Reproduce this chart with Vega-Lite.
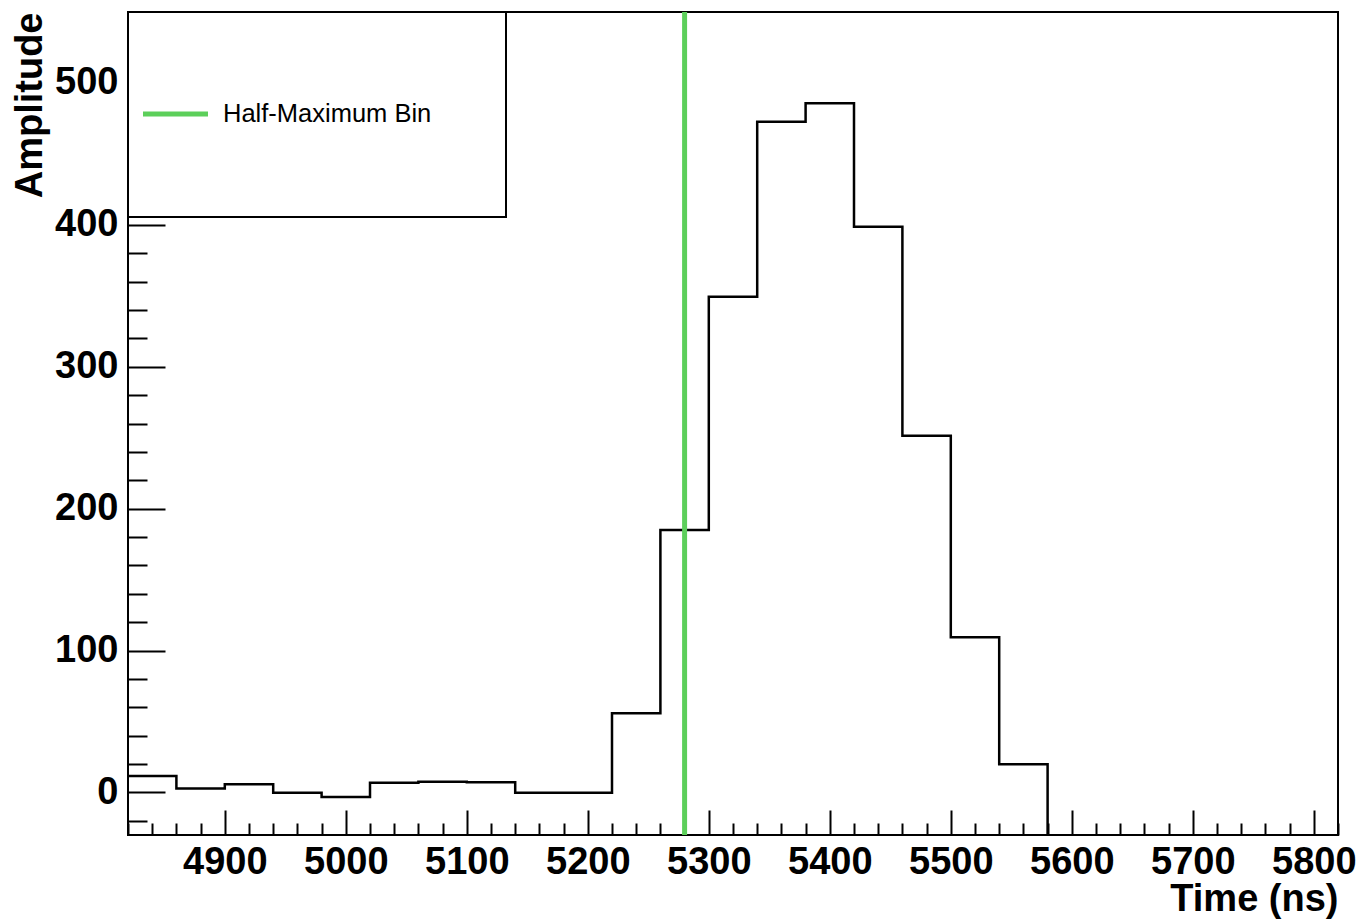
{
  "$schema": "https://vega.github.io/schema/vega-lite/v6.json",
  "width": 1210,
  "height": 823,
  "autosize": {"type": "none"},
  "padding": {"left": 128, "top": 12, "right": 21, "bottom": 87},
  "background": "white",
  "config": {
    "view": {"stroke": "black", "strokeWidth": 2},
    "font": "Liberation Sans"
  },
  "datasets": {
    "hist": [
      {"t": 4820, "amp": 11.6},
      {"t": 4860, "amp": 2.7},
      {"t": 4900, "amp": 5.8},
      {"t": 4940, "amp": -0.3},
      {"t": 4980, "amp": -3.2},
      {"t": 5020, "amp": 6.9},
      {"t": 5060, "amp": 7.6},
      {"t": 5100, "amp": 7.2},
      {"t": 5140, "amp": -0.3},
      {"t": 5180, "amp": -0.3},
      {"t": 5220, "amp": 55.8},
      {"t": 5260, "amp": 185.0},
      {"t": 5300, "amp": 349.4},
      {"t": 5340, "amp": 472.7},
      {"t": 5380, "amp": 485.7},
      {"t": 5420, "amp": 398.7},
      {"t": 5460, "amp": 251.4},
      {"t": 5500, "amp": 109.4},
      {"t": 5540, "amp": 19.9},
      {"t": 5580, "amp": -30}
    ],
    "half": [{"t": 5280, "name": "Half-Maximum Bin"}]
  },
  "resolve": {"axis": {"x": "independent"}},
  "layer": [
    {
      "data": {"name": "hist"},
      "mark": {"type": "line", "interpolate": "step-after", "color": "black", "strokeWidth": 2.5, "clip": true},
      "encoding": {
        "x": {
          "field": "t", "type": "quantitative",
          "scale": {"domain": [4820, 5820], "nice": false, "zero": false},
          "axis": {
            "orient": "bottom",
            "values": [4900,5000,5100,5200,5300,5400,5500,5600,5700,5800],
            "format": "d",
            "tickSize": -25,
            "tickColor": "black",
            "tickWidth": 2,
            "domain": false,
            "grid": false,
            "labelOverlap": false,
            "labelFont": "Liberation Sans",
            "labelFontWeight": "bold",
            "labelFontSize": 38,
            "labelColor": "black",
            "labelPadding": 33,
            "title": "Time (ns)",
            "titleAnchor": "end",
            "titleFont": "Liberation Sans",
            "titleFontWeight": "bold",
            "titleFontSize": 38,
            "titleColor": "black",
            "titlePadding": -1
          }
        },
        "y": {
          "field": "amp", "type": "quantitative",
          "scale": {"domain": [-30, 550], "nice": false, "zero": false},
          "axis": {
            "values": [-20,0,20,40,60,80,100,120,140,160,180,200,220,240,260,280,300,320,340,360,380,400,420,440,460,480,500,520,540],
            "format": "d",
            "tickSize": {"condition": {"test": "datum.value % 100 === 0", "value": -37}, "value": -19},
            "tickColor": "black",
            "tickWidth": 2,
            "domain": false,
            "grid": false,
            "labelExpr": "datum.value % 100 === 0 ? datum.label : ''",
            "labelOverlap": false,
            "labelFont": "Liberation Sans",
            "labelFontWeight": "bold",
            "labelFontSize": 38,
            "labelColor": "black",
            "labelPadding": 47,
            "title": "Amplitude",
            "titleAnchor": "end",
            "titleFont": "Liberation Sans",
            "titleFontWeight": "bold",
            "titleFontSize": 38,
            "titleColor": "black",
            "titlePadding": 5
          }
        }
      }
    },
    {
      "data": {"name": "half"},
      "mark": {"type": "rule", "strokeWidth": 5},
      "encoding": {
        "x": {
          "field": "t", "type": "quantitative",
          "axis": {
            "orient": "bottom",
            "values": [4820,4840,4860,4880,4920,4940,4960,4980,5020,5040,5060,5080,5120,5140,5160,5180,5220,5240,5260,5280,5320,5340,5360,5380,5420,5440,5460,5480,5520,5540,5560,5580,5620,5640,5660,5680,5720,5740,5760,5780,5820],
            "tickSize": -12,
            "tickColor": "black",
            "tickWidth": 2,
            "domain": false,
            "grid": false,
            "labels": false,
            "title": null
          }
        },
        "color": {
          "field": "name", "type": "nominal",
          "scale": {"range": ["#5ccf5a"]},
          "legend": {
            "title": null,
            "orient": "none",
            "legendX": 0,
            "legendY": 0,
            "padding": 15,
            "fillColor": "white",
            "strokeColor": "black",
            "symbolType": "M-1.0296,0H-0.2604M2.959,0.923",
            "symbolSize": 28561,
            "symbolStrokeWidth": 5,
            "labelOffset": -94,
            "labelFont": "Liberation Sans",
            "labelFontSize": 25.5,
            "labelColor": "black",
            "labelLimit": 400,
            "encode": {"legend": {"update": {"strokeWidth": {"value": 2}}}}
          }
        }
      }
    }
  ]
}
